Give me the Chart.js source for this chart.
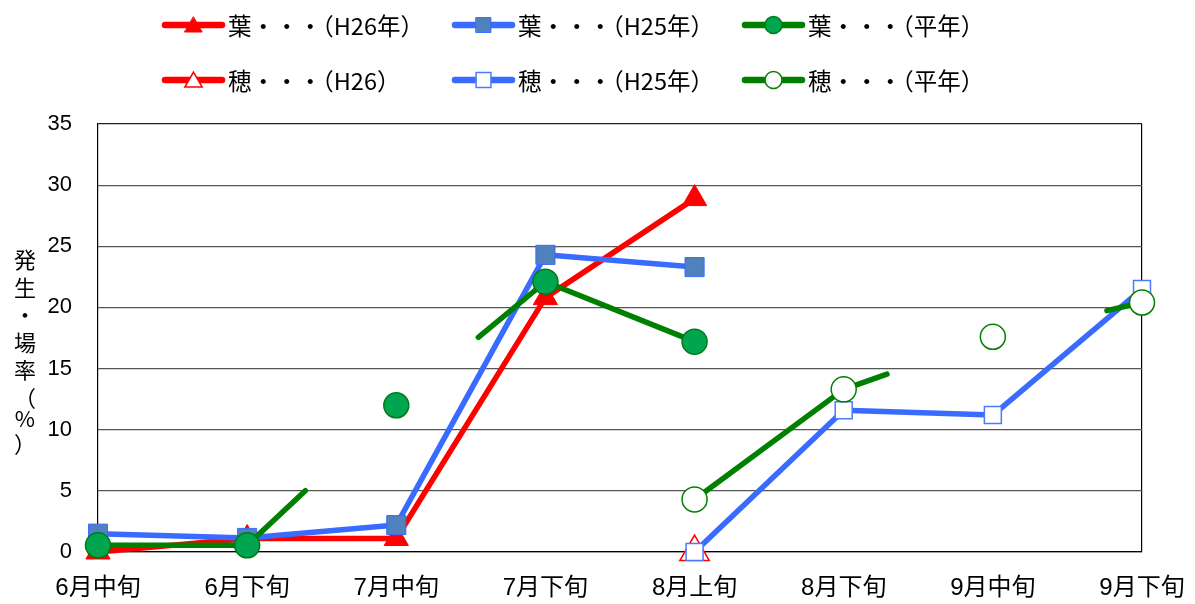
<!DOCTYPE html>
<html><head><meta charset="utf-8">
<script src="https://cdn.jsdelivr.net/npm/chart.js@4"></script>
<style>html,body{margin:0;padding:0;background:#fff;} #wrap{width:1195px;height:604px;}</style>
</head><body><div id="wrap"><canvas id="c" width="1195" height="604"></canvas></div>
<script>
const categories = ['6月中旬','6月下旬','7月中旬','7月下旬','8月上旬','8月下旬','9月中旬','9月下旬'];
const seriesNames = ['葉・・・（H26年）','葉・・・（H25年）','葉・・・（平年）','穂・・・（H26）','穂・・・（H25年）','穂・・・（平年）'];
const leafH26 = [0, 1.1, 1.1, 20.8, 28.9, null, null, null];
const leafH25 = [1.5, 1.15, 2.2, 24.3, 23.3, null, null, null];
const leafAvg = [0.55, 0.55, 12.0, 22.1, 17.2, null, null, null];
const earH26 = [null, null, null, null, 0, null, null, null];
const earH25 = [null, null, null, null, 0, 11.6, 11.2, 21.5];
const earAvg = [null, null, null, null, 4.3, 13.3, 17.6, 20.4];
const yTicks = [0, 5, 10, 15, 20, 25, 30, 35];
const yTitle = '発生・場率（%）';

const RED = '#FF0000', BLUE = '#3A6BFF', GREEN = '#008000';
const LATIN = "'Liberation Sans', 'Noto Sans CJK JP', sans-serif";
const CJK = "'Noto Sans CJK JP', sans-serif";

// visible fraction of some segments of the 平年 lines (as in the original drawing)
function partialDash(ctx, range) {
  if (!range) return undefined;
  const L = Math.hypot(ctx.p1.x - ctx.p0.x, ctx.p1.y - ctx.p0.y);
  const [a, b] = range;
  if (a <= 0) return [b * L, L * 4 + 200];
  return [0, a * L, (b - a) * L, L * 4 + 200];
}
const leafAvgParts = {1: [0, 0.39], 2: [0.55, 1]};
const earAvgParts = {5: [0, 0.29], 6: [0.765, 1]};

const datasets = [
  {label: seriesNames[0], data: leafH26, borderColor: RED, backgroundColor: RED,
   pointStyle: 'triangle', pointRadius: 14, pointBorderWidth: 1, pointBorderColor: RED, pointBackgroundColor: RED, order: 6,
   legendMarker: {style: 'triangle', r: 10}},
  {label: seriesNames[1], data: leafH25, borderColor: BLUE, backgroundColor: BLUE,
   pointStyle: 'rect', pointRadius: 13.5, pointBorderWidth: 1, pointBorderColor: '#3A6BFF', pointBackgroundColor: '#4F81BD', order: 5,
   legendMarker: {style: 'rect', r: 10.5}},
  {label: seriesNames[2], data: leafAvg, borderColor: GREEN, backgroundColor: GREEN,
   pointStyle: 'circle', pointRadius: 12.5, pointBorderWidth: 1.5, pointBorderColor: '#007A1A', pointBackgroundColor: '#00A550', order: 4,
   segment: {borderDash: ctx => partialDash(ctx, leafAvgParts[ctx.p0DataIndex])},
   legendMarker: {style: 'circle', r: 8.5}},
  {label: seriesNames[3], data: earH26, borderColor: RED, backgroundColor: '#fff',
   pointStyle: 'triangle', pointRadius: 17, pointBorderWidth: 1.5, pointBorderColor: RED, pointBackgroundColor: '#fff', order: 3,
   legendMarker: {style: 'triangle', r: 10}},
  {label: seriesNames[4], data: earH25, borderColor: BLUE, backgroundColor: '#fff',
   pointStyle: 'rect', pointRadius: 12, pointBorderWidth: 1.5, pointBorderColor: '#4A7BFF', pointBackgroundColor: '#fff', order: 2,
   legendMarker: {style: 'rect', r: 10.5}},
  {label: seriesNames[5], data: earAvg, borderColor: GREEN, backgroundColor: '#fff',
   pointStyle: 'circle', pointRadius: 12.5, pointBorderWidth: 1.5, pointBorderColor: GREEN, pointBackgroundColor: '#fff', order: 1,
   segment: {borderDash: ctx => partialDash(ctx, earAvgParts[ctx.p0DataIndex])},
   legendMarker: {style: 'circle', r: 8.5}}
].map(d => Object.assign({borderWidth: 5.5, borderCapStyle: 'round', borderJoinStyle: 'round', tension: 0, spanGaps: false, fill: false, clip: false, pointHoverRadius: d.pointRadius}, d));

const legendLayout = {cols: [165, 455, 745], rows: [25, 80], lineLen: 57, gap: 6};

const customDecor = {
  id: 'customDecor',
  afterDraw(chart) {
    const ctx = chart.ctx;
    ctx.save();
    // legend
    datasets.forEach((ds, i) => {
      const col = i % 3, row = Math.floor(i / 3);
      const x0 = legendLayout.cols[col], y = legendLayout.rows[row];
      const x1 = x0 + legendLayout.lineLen;
      ctx.beginPath();
      ctx.lineWidth = 6.5; ctx.lineCap = 'round';
      ctx.strokeStyle = ds.borderColor;
      ctx.setLineDash([]);
      ctx.moveTo(x0, y); ctx.lineTo(x1, y); ctx.stroke();
      ctx.fillStyle = ds.pointBackgroundColor;
      ctx.strokeStyle = ds.pointBorderColor;
      ctx.lineWidth = ds.pointBorderWidth;
      const my = ds.legendMarker.style === 'triangle' ? y + 2 : y;
      Chart.helpers.drawPoint(ctx, {pointStyle: ds.legendMarker.style, radius: ds.legendMarker.r, rotation: 0, borderWidth: ds.pointBorderWidth}, (x0 + x1) / 2, my);
      ctx.fillStyle = '#000';
      ctx.font = '23.5px ' + CJK;
      ctx.textAlign = 'left'; ctx.textBaseline = 'middle';
      ctx.fillText(ds.label, x1 + legendLayout.gap, y + 1);
    });
    // vertical y-axis title
    ctx.font = '22px ' + CJK;
    ctx.fillStyle = '#000';
    ctx.textAlign = 'center'; ctx.textBaseline = 'middle';
    let ty = 260;
    for (const ch of yTitle) {
      const small = (ch === '（' || ch === '）' || ch === '%');
      if (ch === '）') ty += 4;
      ctx.fillText(ch, 25, ty);
      ty += small ? 21 : 27.5;
    }
    ctx.restore();
  }
};

new Chart(document.getElementById('c'), {
  type: 'line',
  data: {labels: categories, datasets},
  options: {
    responsive: false,
    animation: false,
    events: [],
    layout: {padding: {top: 124, right: 53, bottom: 0, left: 0}},
    plugins: {legend: {display: false}, tooltip: {enabled: false}},
    scales: {
      x: {
        type: 'category', offset: false,
        grid: {display: true, drawTicks: false, lineWidth: 1.2,
               color: c => c.index === categories.length - 1 ? '#000' : 'rgba(0,0,0,0)'},
        border: {display: true, color: '#000', width: 1.2},
        ticks: {padding: 22, color: '#000', font: {family: LATIN, size: 24}, maxRotation: 0, autoSkip: false},
        afterFit: s => { s.height = 52; s.paddingLeft = 0; s.paddingRight = 0; }
      },
      y: {
        min: 0, max: 35,
        afterBuildTicks: s => { s.ticks = yTicks.map(v => ({value: v})); },
        grid: {drawTicks: false, lineWidth: 1.2, color: c => c.tick && c.tick.value === 35 ? '#222' : '#555'},
        border: {display: true, color: '#000', width: 1.2},
        ticks: {padding: 26, color: '#000', font: {family: LATIN, size: 22}},
        afterFit: s => { s.width = 98; s.paddingTop = 0; s.paddingBottom = 0; }
      }
    }
  },
  plugins: [customDecor]
});
</script>
</body></html>
